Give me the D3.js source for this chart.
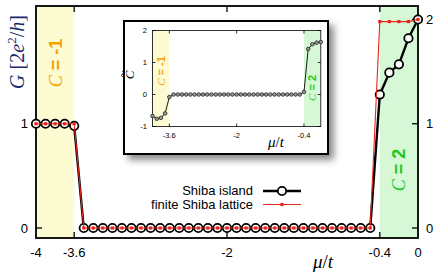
<!DOCTYPE html>
<html>
<head>
<meta charset="utf-8">
<script src="https://cdn.jsdelivr.net/npm/d3@7"></script>
<style>
  html, body { margin: 0; padding: 0; background: #fff; }
  svg { display: block; }
  .sans { font-family: "Liberation Sans", Arial, sans-serif; }
  .math { font-family: "Liberation Serif", "DejaVu Serif", serif; font-style: italic; }
</style>
</head>
<body>
<svg id="svg" width="436" height="273"></svg>
<script>
// chemical potential grid (mu/t)
const mu = [-4.0, -3.9, -3.8, -3.7, -3.6, -3.5, -3.4, -3.3, -3.2, -3.1,
            -3.0, -2.9, -2.8, -2.7, -2.6, -2.5, -2.4, -2.3, -2.2, -2.1,
            -2.0, -1.9, -1.8, -1.7, -1.6, -1.5, -1.4, -1.3, -1.2, -1.1,
            -1.0, -0.9, -0.8, -0.7, -0.6, -0.5, -0.4, -0.3, -0.2, -0.1, 0.0];

// conductance G, Shiba island
const gIsland = [1.0, 1.0, 1.0, 1.0, 0.98, 0, 0, 0, 0, 0,
                 0, 0, 0, 0, 0, 0, 0, 0, 0, 0,
                 0, 0, 0, 0, 0, 0, 0, 0, 0, 0,
                 0, 0, 0, 0, 0, 0, 1.28, 1.49, 1.57, 1.82, 2.0];

// conductance G, finite Shiba lattice
const gLattice = [1.0, 1.0, 1.0, 1.0, 1.0, 0, 0, 0, 0, 0,
                  0, 0, 0, 0, 0, 0, 0, 0, 0, 0,
                  0, 0, 0, 0, 0, 0, 0, 0, 0, 0,
                  0, 0, 0, 0, 0, 0, 1.98, 1.98, 1.98, 1.98, 2.0];

// inset: Chern marker C~
const cTilde = [-0.67, -0.76, -0.73, -0.59, -0.08, 0, 0, 0, 0, 0,
                0, 0, 0, 0, 0, 0, 0, 0, 0, 0,
                0, 0, 0, 0, 0, 0, 0, 0, 0, 0,
                0, 0, 0, 0, 0, 0, 0.08, 1.42, 1.57, 1.62, 1.64];

const xTicks = [-4, -3.6, -2, -0.4, 0];
const xTickLabels = ['-4', '-3.6', '-2', '-0.4', '0'];
const yTicksLeft = [0, 1];
const yTicksRight = [0, 1, 2];
const insetXTicks = [-3.6, -2, -0.4];
const insetYTicks = [-1, 0, 1, 2];
const phases = [{c: 'C = -1', from: -4, to: -3.6, fill: '#fcfbd1', text: '#f5a300'},
                {c: 'C = 2', from: -0.4, to: 0, fill: '#d6f8d6', text: '#1fc81f'}];

const svg = d3.select('#svg');

const defs = svg.append('defs');
const f = defs.append('filter').attr('id', 'shadow')
  .attr('x', '-10%').attr('y', '-10%').attr('width', '130%').attr('height', '130%');
f.append('feDropShadow').attr('dx', 5).attr('dy', 5).attr('stdDeviation', 3.5)
  .attr('flood-color', '#000').attr('flood-opacity', 0.45);

// ---------- main panel ----------
const L = 36, R = 418, T = 6, B = 238;
const x = d3.scaleLinear().domain([-4, 0]).range([L, R]);
const y = d3.scaleLinear().domain([0, 2]).range([228, 19.5]);

const main = svg.append('g');

phases.forEach(p => {
  main.append('rect')
    .attr('x', x(p.from)).attr('y', T)
    .attr('width', x(p.to) - x(p.from)).attr('height', B - T)
    .attr('fill', p.fill);
});

// ticks
const tickLen = 6;
xTicks.forEach(v => {
  if (v === -4 || v === 0) return;
  main.append('line').attr('x1', x(v)).attr('x2', x(v)).attr('y1', B).attr('y2', B - tickLen)
    .attr('stroke', '#000').attr('stroke-width', 1.3);
  main.append('line').attr('x1', x(v)).attr('x2', x(v)).attr('y1', T).attr('y2', T + tickLen)
    .attr('stroke', '#000').attr('stroke-width', 1.3);
});
yTicksRight.forEach(v => {
  main.append('line').attr('x1', R).attr('x2', R - tickLen).attr('y1', y(v)).attr('y2', y(v))
    .attr('stroke', '#000').attr('stroke-width', 1.3);
});
yTicksLeft.forEach(v => {
  main.append('line').attr('x1', L).attr('x2', L + tickLen).attr('y1', y(v)).attr('y2', y(v))
    .attr('stroke', '#000').attr('stroke-width', 1.3);
});

main.append('rect').attr('x', L).attr('y', T).attr('width', R - L).attr('height', B - T)
  .attr('fill', 'none').attr('stroke', '#000').attr('stroke-width', 1.8);

// tick labels
xTicks.forEach((v, i) => {
  main.append('text').attr('class', 'sans').attr('x', x(v)).attr('y', 257)
    .attr('text-anchor', 'middle').attr('font-size', 13).text(xTickLabels[i]);
});
yTicksLeft.forEach(v => {
  main.append('text').attr('class', 'sans').attr('x', 28).attr('y', y(v) + 4.5)
    .attr('text-anchor', 'end').attr('font-size', 13).text(v);
});
yTicksRight.forEach(v => {
  main.append('text').attr('class', 'sans').attr('x', 426).attr('y', y(v) + 4.5)
    .attr('text-anchor', 'start').attr('font-size', 13).text(v);
});

// axis labels
const xl = main.append('text').attr('class', 'math').attr('x', 323).attr('y', 268)
  .attr('text-anchor', 'middle').attr('font-size', 19);
xl.append('tspan').text('μ');
xl.append('tspan').attr('font-style', 'normal').text('/');
xl.append('tspan').text('t');

const yl = main.append('text').attr('class', 'math')
  .attr('transform', 'translate(24,52) rotate(-90)')
  .attr('text-anchor', 'middle').attr('font-size', 20).attr('fill', '#1d2b6b');
yl.append('tspan').text('G ');
yl.append('tspan').attr('font-style', 'normal').text('[2');
yl.append('tspan').text('e');
yl.append('tspan').attr('font-style', 'normal').attr('font-size', 13).attr('dy', -8).text('2');
yl.append('tspan').attr('font-style', 'normal').attr('dy', 8).text('/');
yl.append('tspan').text('h');
yl.append('tspan').attr('font-style', 'normal').text(']');

// phase labels
const phaseLabel = (g, p, cx, cy, size) => {
  const t = g.append('text').attr('class', 'sans')
    .attr('transform', `translate(${cx},${cy}) rotate(-90)`)
    .attr('text-anchor', 'middle').attr('font-size', size)
    .attr('fill', p.text).attr('font-weight', 'bold');
  t.append('tspan').attr('class', 'math').attr('font-weight', 'normal').text('C');
  t.append('tspan').text(p.c.slice(1));
};
phaseLabel(main, phases[0], 61.5, 63, 18);
phaseLabel(main, phases[1], 405, 170, 18);

// data
const pts = (vals) => mu.map((m, i) => [m, vals[i]]);
const line = d3.line().x(d => x(d[0])).y(d => y(d[1]));

main.append('path').datum(pts(gIsland)).attr('d', line)
  .attr('fill', 'none').attr('stroke', '#000').attr('stroke-width', 2.4);
main.selectAll('circle.isl').data(pts(gIsland)).enter().append('circle')
  .attr('class', 'isl').attr('cx', d => x(d[0])).attr('cy', d => y(d[1])).attr('r', 4.2)
  .attr('fill', '#fff').attr('stroke', '#000').attr('stroke-width', 1.8);
main.append('path').datum(pts(gLattice)).attr('d', line)
  .attr('fill', 'none').attr('stroke', '#e8251c').attr('stroke-width', 1.1);
main.selectAll('rect.lat').data(pts(gLattice)).enter().append('rect')
  .attr('class', 'lat').attr('x', d => x(d[0]) - 1.6).attr('y', d => y(d[1]) - 1.6)
  .attr('width', 3.2).attr('height', 3.2).attr('fill', '#e8251c');

// legend
const leg = main.append('g').attr('class', 'sans');
leg.append('text').attr('x', 253).attr('y', 195).attr('text-anchor', 'end').attr('font-size', 13).text('Shiba island');
leg.append('text').attr('x', 253).attr('y', 209).attr('text-anchor', 'end').attr('font-size', 13).text('finite Shiba lattice');
leg.append('line').attr('x1', 263).attr('x2', 301).attr('y1', 191).attr('y2', 191)
  .attr('stroke', '#000').attr('stroke-width', 2.4);
leg.append('circle').attr('cx', 282).attr('cy', 191).attr('r', 4.2)
  .attr('fill', '#fff').attr('stroke', '#000').attr('stroke-width', 1.8);
leg.append('line').attr('x1', 263).attr('x2', 301).attr('y1', 204.5).attr('y2', 204.5)
  .attr('stroke', '#e8251c').attr('stroke-width', 1.1);
leg.append('rect').attr('x', 280.4).attr('y', 202.9).attr('width', 3.2).attr('height', 3.2).attr('fill', '#e8251c');

// ---------- inset ----------
const ins = svg.append('g');
ins.append('rect').attr('x', 124).attr('y', 21).attr('width', 204).attr('height', 133)
  .attr('fill', '#fff').attr('stroke', '#000').attr('stroke-width', 2)
  .attr('filter', 'url(#shadow)');

const ix = d3.scaleLinear().domain([-4, 0]).range([152.5, 320.8]);
const iy = d3.scaleLinear().domain([-1, 2]).range([126.5, 30.5]);
const iT = 30.5, iB = 126.5;

phases.forEach(p => {
  ins.append('rect').attr('x', ix(p.from)).attr('y', iT)
    .attr('width', ix(p.to) - ix(p.from)).attr('height', iB - iT).attr('fill', p.fill);
});
insetXTicks.forEach(v => {
  ins.append('line').attr('x1', ix(v)).attr('x2', ix(v)).attr('y1', iB).attr('y2', iB - 3)
    .attr('stroke', '#000').attr('stroke-width', 0.8);
  ins.append('line').attr('x1', ix(v)).attr('x2', ix(v)).attr('y1', iT).attr('y2', iT + 3)
    .attr('stroke', '#000').attr('stroke-width', 0.8);
  ins.append('text').attr('class', 'sans').attr('x', ix(v)).attr('y', 137.5)
    .attr('text-anchor', 'middle').attr('font-size', 7.5).text(v);
});
insetYTicks.forEach(v => {
  ins.append('line').attr('x1', 152.5).attr('x2', 155.5).attr('y1', iy(v)).attr('y2', iy(v))
    .attr('stroke', '#000').attr('stroke-width', 0.8);
  ins.append('line').attr('x1', 320.8).attr('x2', 317.8).attr('y1', iy(v)).attr('y2', iy(v))
    .attr('stroke', '#000').attr('stroke-width', 0.8);
  ins.append('text').attr('class', 'sans').attr('x', 147).attr('y', iy(v) + 2.7)
    .attr('text-anchor', 'end').attr('font-size', 7.5).text(v);
});
ins.append('rect').attr('x', 152.5).attr('y', iT).attr('width', 320.8 - 152.5).attr('height', iB - iT)
  .attr('fill', 'none').attr('stroke', '#000').attr('stroke-width', 0.8);

phaseLabel(ins, phases[0], 165, 71, 11);
phaseLabel(ins, phases[1], 315.5, 88, 11);

const ixl = ins.append('text').attr('class', 'math').attr('x', 276).attr('y', 147)
  .attr('text-anchor', 'middle').attr('font-size', 15);
ixl.append('tspan').text('μ');
ixl.append('tspan').attr('font-style', 'normal').text('/');
ixl.append('tspan').text('t');

// C with tilde, rotated
const cl = ins.append('g').attr('transform', 'translate(134,75) rotate(-90)');
cl.append('text').attr('class', 'math').attr('text-anchor', 'middle').attr('font-size', 13).text('C');
cl.append('path').attr('d', 'M-2,-11.5 q1.5,-2 3,0 t3,0')
  .attr('fill', 'none').attr('stroke', '#000').attr('stroke-width', 0.9);

const iline = d3.line().x(d => ix(d[0])).y(d => iy(d[1]));
ins.append('path').datum(pts(cTilde)).attr('d', iline)
  .attr('fill', 'none').attr('stroke', '#000').attr('stroke-width', 0.9);
ins.selectAll('circle').data(pts(cTilde)).enter().append('circle')
  .attr('cx', d => ix(d[0])).attr('cy', d => iy(d[1])).attr('r', 1.8)
  .attr('fill', '#999').attr('stroke', '#222').attr('stroke-width', 0.8);
</script>
</body>
</html>
